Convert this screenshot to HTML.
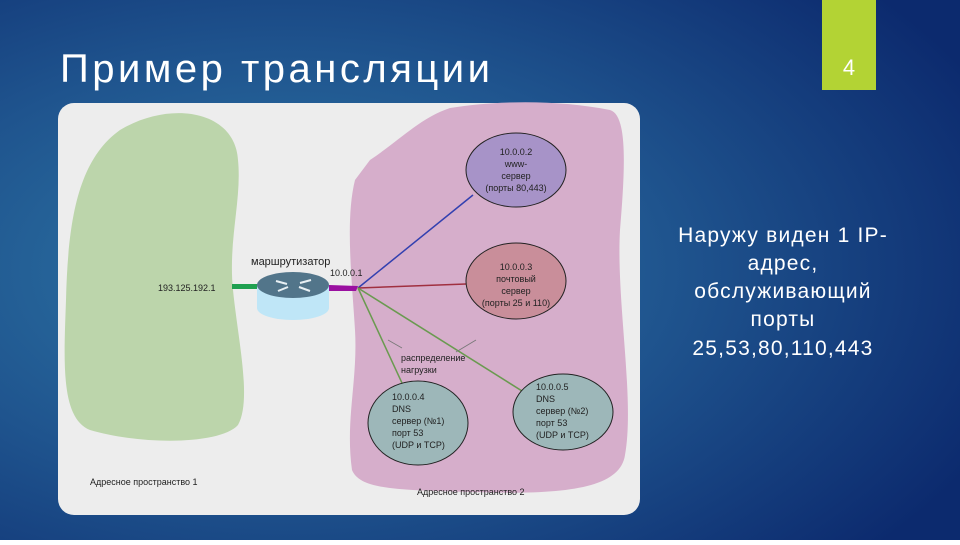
<!DOCTYPE html>
<html><head><meta charset="utf-8"><style>
body{margin:0;width:960px;height:540px;overflow:hidden;font-family:"Liberation Sans","DejaVu Sans",sans-serif;}
</style></head><body>
<svg width="960" height="540" xmlns="http://www.w3.org/2000/svg" font-family="Liberation Sans, DejaVu Sans, sans-serif">
<defs>
<radialGradient id="bg" cx="0.3" cy="0.5" r="0.8">
<stop offset="0" stop-color="#2f7aa8"/><stop offset="0.5" stop-color="#1f548e"/><stop offset="1" stop-color="#0c2a6e"/>
</radialGradient>
</defs>
<rect width="960" height="540" fill="url(#bg)"/>
<rect x="822" y="0" width="54" height="90" fill="#b3d334"/>
<text x="849" y="75" font-size="22" fill="#fff" text-anchor="middle">4</text>
<text x="60" y="82" font-size="40" fill="#fff" letter-spacing="3.5">Пример трансляции</text>
<g font-size="21" fill="#fff" text-anchor="middle" letter-spacing="1.2">
<text x="783" y="242">Наружу виден 1 IP-</text>
<text x="783" y="270">адрес,</text>
<text x="783" y="298">обслуживающий</text>
<text x="783" y="326">порты</text>
<text x="783" y="355">25,53,80,110,443</text>
</g>
<rect x="58" y="103" width="582" height="412" rx="16" fill="#ededed"/>
<path d="M120 130 C170 100 235 110 238 160 C242 200 228 240 233 290 C238 340 252 400 238 425 C220 445 140 445 90 430 C60 418 64 360 66 300 C68 220 78 160 120 130 Z" fill="#bcd5ab"/>
<path d="M370 160 C400 140 420 118 450 108 C500 100 560 100 610 110 C628 115 625 170 620 230 C616 300 635 400 625 455 C620 490 560 495 470 492 C400 490 360 490 352 470 C345 420 358 380 355 330 C352 280 345 220 355 180 Z" fill="#d6aecb"/>
<line x1="358" y1="288" x2="473" y2="195" stroke="#3340b0" stroke-width="1.5"/>
<line x1="358" y1="288" x2="466" y2="284" stroke="#a03040" stroke-width="1.5"/>
<line x1="358" y1="288" x2="402" y2="383" stroke="#6a9a50" stroke-width="1.5"/>
<line x1="358" y1="288" x2="530" y2="396" stroke="#6a9a50" stroke-width="1.5"/>
<line x1="388" y1="340" x2="402" y2="348" stroke="#777" stroke-width="0.8"/>
<line x1="456" y1="352" x2="476" y2="340" stroke="#777" stroke-width="0.8"/>
<rect x="232" y="284" width="28" height="5" fill="#1fa050"/>
<path d="M329 285 L358 286 L356 291 L329 291 Z" fill="#9a10a0"/>
<path d="M257 285 L257 308 A36 12 0 0 0 329 308 L329 285 Z" fill="#bfe6f7"/>
<ellipse cx="293" cy="285" rx="36" ry="13" fill="#52758a"/>
<g stroke="#e8f0f4" stroke-width="2"><line x1="276" y1="281" x2="287" y2="284"/><line x1="300" y1="283" x2="311" y2="280"/><line x1="278" y1="291" x2="288" y2="287"/><line x1="299" y1="287" x2="310" y2="291"/></g>
<g stroke="#222" stroke-width="1">
<ellipse cx="516" cy="170" rx="50" ry="37" fill="#a793c8"/>
<ellipse cx="516" cy="281" rx="50" ry="38" fill="#c98e9a"/>
<ellipse cx="418" cy="423" rx="50" ry="42" fill="#9db7b9"/>
<ellipse cx="563" cy="412" rx="50" ry="38" fill="#9db7b9"/>
</g>
<g font-size="9" fill="#222" text-anchor="middle">
<text x="516" y="155">10.0.0.2</text><text x="516" y="167">www-</text><text x="516" y="179">сервер</text><text x="516" y="191">(порты 80,443)</text>
<text x="516" y="270">10.0.0.3</text><text x="516" y="282">почтовый</text><text x="516" y="294">сервер</text><text x="516" y="306">(порты 25 и 110)</text>
</g>
<g font-size="9" fill="#222">
<text x="392" y="400">10.0.0.4</text><text x="392" y="412">DNS</text><text x="392" y="424">сервер (№1)</text><text x="392" y="436">порт 53</text><text x="392" y="448">(UDP и TCP)</text>
<text x="536" y="390">10.0.0.5</text><text x="536" y="402">DNS</text><text x="536" y="414">сервер (№2)</text><text x="536" y="426">порт 53</text><text x="536" y="438">(UDP и TCP)</text>
<text x="401" y="361">распределение</text><text x="401" y="373">нагрузки</text>
<text x="158" y="291">193.125.192.1</text>
<text x="330" y="276">10.0.0.1</text>
<text x="90" y="485">Адресное пространство 1</text>
<text x="417" y="495">Адресное пространство 2</text>
</g>
<text x="251" y="265" font-size="11" fill="#222">маршрутизатор</text>
</svg>
</body></html>
